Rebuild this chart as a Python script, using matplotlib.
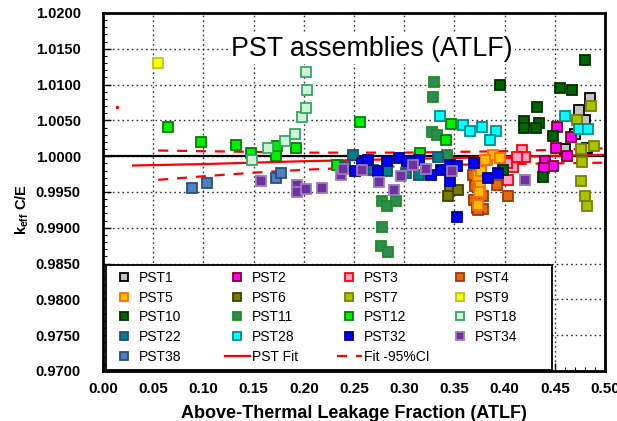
import matplotlib
matplotlib.use('Agg')
import matplotlib.pyplot as plt
from matplotlib.lines import Line2D
from matplotlib.ticker import MultipleLocator, FormatStrFormatter

plt.rcParams['font.family'] = ['Liberation Sans', 'DejaVu Sans']
plt.rcParams['mathtext.fontset'] = 'custom'
plt.rcParams['mathtext.rm'] = 'Liberation Sans'
plt.rcParams['mathtext.bf'] = 'Liberation Sans:bold'

# ---------------- data ----------------
pst1_x = [0.485, 0.4744, 0.480, 0.4701, 0.4602, 0.4818]
pst1_y = [1.0081, 1.0065, 1.0051, 1.0031, 1.0010, 1.0012]
pst2_x = [0.4525, 0.4658, 0.4512, 0.4618, 0.4402, 0.4485, 0.4392]
pst2_y = [1.0041, 1.0027, 1.0012, 1.0000, 0.9993, 0.9986, 0.9984]
pst3_x = [0.417, 0.4203, 0.412, 0.408, 0.4037, 0.4025]
pst3_y = [1.0009, 0.9999, 0.9999, 0.9985, 0.9967, 0.9991]
pst4_x = [0.3688, 0.3705, 0.3788, 0.3698, 0.3722, 0.3788, 0.392, 0.4037, 0.3738]
pst4_y = [0.9974, 0.9958, 0.9945, 0.9939, 0.9928, 0.9926, 0.9960, 0.9945, 0.9925]
pst5_x = [0.3822, 0.3881, 0.3954, 0.3805, 0.3738, 0.3755, 0.3738, 0.3765, 0.3745]
pst5_y = [0.9995, 1.0002, 0.9998, 0.9994, 0.9972, 0.9958, 0.9932, 0.9980, 0.9950]
pst6_x = [0.3456, 0.3533, 0.344]
pst6_y = [0.9953, 0.9953, 0.9945]
pst7_x = [0.486, 0.4724, 0.4758, 0.4894, 0.4774, 0.4758, 0.480, 0.4818]
pst7_y = [1.0070, 1.0051, 1.0010, 1.0014, 0.9992, 0.9965, 0.9945, 0.9931]
pst9_x = [0.055]
pst9_y = [1.0130]
pst10_x = [0.4801, 0.3954, 0.4552, 0.4674, 0.4326, 0.4196, 0.4196, 0.4346, 0.4313, 0.4485, 0.4386, 0.3987]
pst10_y = [1.0134, 1.0100, 1.0095, 1.0093, 1.0069, 1.0049, 1.0039, 1.0047, 1.0039, 1.0028, 0.9971, 0.9981]
pst11_x = [0.3294, 0.3284, 0.3274, 0.333, 0.2776, 0.2826, 0.2918, 0.2776, 0.2766, 0.2836, 0.3423]
pst11_y = [1.0104, 1.0082, 1.0034, 1.0029, 0.9937, 0.9930, 0.9937, 0.9901, 0.9875, 0.9866, 1.0001]
pst12_x = [0.065, 0.0976, 0.1321, 0.1471, 0.1723, 0.173, 0.1922, 0.2330, 0.256, 0.3463, 0.3416, 0.3157]
pst12_y = [1.0041, 1.0020, 1.0015, 1.0004, 1.0000, 1.0014, 1.0012, 0.9988, 1.0048, 1.0045, 1.0022, 1.0004]
pst18_x = [0.1487, 0.1647, 0.1813, 0.1912, 0.198, 0.202, 0.203, 0.202]
pst18_y = [0.9994, 1.0012, 1.0021, 1.0031, 1.0055, 1.0068, 1.0092, 1.0118]
pst22_x = [0.2487, 0.241, 0.2692, 0.2826, 0.3018, 0.315, 0.334]
pst22_y = [1.0002, 0.9985, 0.9981, 0.9979, 0.9977, 0.9974, 0.9999]
pst28_x = [0.4602, 0.4741, 0.4827, 0.3357, 0.3589, 0.3655, 0.3772, 0.3914, 0.3855]
pst28_y = [1.0056, 1.0038, 1.0038, 1.0056, 1.0044, 1.0035, 1.0041, 1.0035, 1.0023]
pst32_x = [0.251, 0.2577, 0.2643, 0.2826, 0.2736, 0.2952, 0.3025, 0.315, 0.3264,
           0.3364, 0.3456, 0.3529, 0.3456, 0.3529, 0.3698, 0.3832, 0.3931]
pst32_y = [0.9979, 0.9991, 0.9994, 0.9993, 0.9979, 0.9998, 0.9993, 0.9994, 0.9974,
           0.9981, 0.9988, 0.9987, 0.9965, 0.9915, 0.9990, 0.9970, 0.9977]
pst34_x = [0.157, 0.1929, 0.1935, 0.2022, 0.2178, 0.2367, 0.2394, 0.2577, 0.2746,
           0.2898, 0.2965, 0.3085, 0.3217, 0.3473, 0.4203]
pst34_y = [0.9966, 0.9960, 0.9950, 0.9954, 0.9956, 0.9974, 0.9982, 0.9981, 0.9964,
           0.9953, 0.9973, 0.9988, 0.9982, 0.9980, 0.9967]
pst38_x = [0.089, 0.1033, 0.1723, 0.177]
pst38_y = [0.9955, 0.9962, 0.9970, 0.9976]

extra_x = [0.0136]
extra_y = [1.0069]

fit_x = [0.03, 0.10, 0.20, 0.30, 0.40, 0.50]
fit_y = [0.9987, 0.9989, 0.9993, 0.9996, 0.9999, 1.0002]
ci_x = [0.055, 0.10, 0.15, 0.20, 0.25, 0.30, 0.35, 0.40, 0.45, 0.50]
ci_upper = [1.0008, 1.0007, 1.0006, 1.0005, 1.0005, 1.0005, 1.0006, 1.0007, 1.0009, 1.0011]
ci_lower = [0.9967, 0.9972, 0.9977, 0.9981, 0.9984, 0.9986, 0.9988, 0.9989, 0.9990, 0.9991]

labels = ['PST1', 'PST2', 'PST3', 'PST4', 'PST5', 'PST6', 'PST7', 'PST9', 'PST10',
          'PST11', 'PST12', 'PST18', 'PST22', 'PST28', 'PST32', 'PST34', 'PST38']
xs = [pst1_x, pst2_x, pst3_x, pst4_x, pst5_x, pst6_x, pst7_x, pst9_x, pst10_x,
      pst11_x, pst12_x, pst18_x, pst22_x, pst28_x, pst32_x, pst34_x, pst38_x]
ys = [pst1_y, pst2_y, pst3_y, pst4_y, pst5_y, pst6_y, pst7_y, pst9_y, pst10_y,
      pst11_y, pst12_y, pst18_y, pst22_y, pst28_y, pst32_y, pst34_y, pst38_y]
faces = ['#c4c4c4', '#ff00ff', '#ff9ec8', '#e06a10', '#ffc000', '#7a7a00', '#a8c400',
         '#ffff00', '#006400', '#2e8b57', '#00f000', '#ccf5d6', '#008080', '#00ffff',
         '#0000ff', '#7030a0', '#4f7fbf']
edges = ['#000000', '#800020', '#ff0000', '#a03a00', '#ff6a00', '#404000', '#7a8000',
         '#b0c820', '#003000', '#1e8c1e', '#008000', '#3aa36a', '#1f4e79', '#008b8b',
         '#00008b', '#9a7cc0', '#2a4e80']

# ---------------- figure ----------------
fig = plt.figure(figsize=(6.17, 4.21), dpi=100)
ax = fig.add_axes([103 / 617, 1 - 371 / 421, (605 - 103) / 617, (371 - 13) / 421])
ax.set_xlim(0, 0.5)
ax.set_ylim(0.97, 1.02)

ax.xaxis.set_major_locator(MultipleLocator(0.05))
ax.xaxis.set_minor_locator(MultipleLocator(0.01))
ax.yaxis.set_major_locator(MultipleLocator(0.005))
ax.yaxis.set_minor_locator(MultipleLocator(0.001))
ax.xaxis.set_major_formatter(FormatStrFormatter('%.2f'))
ax.yaxis.set_major_formatter(FormatStrFormatter('%.4f'))
ax.tick_params(which='both', direction='in', top=False, right=False)
ax.tick_params(which='major', length=6, width=1)
ax.tick_params(which='minor', length=3, width=0.8)
ax.tick_params(axis='x', which='major', pad=8, labelsize=11)
ax.tick_params(axis='y', which='major', pad=16, labelsize=10.5)
for lab in ax.get_xticklabels() + ax.get_yticklabels():
    lab.set_fontweight('bold')
for sp in ax.spines.values():
    sp.set_linewidth(2)

ax.grid(True, which='major', linestyle=(0, (1.2, 2.2)), color='#333333', linewidth=1.0, zorder=0)
ax.set_axisbelow(True)
ax.axhline(1.0, color='k', lw=1.6, zorder=1.5)

ci_ls = (0, (4.5, 4))
ax.plot(fit_x, fit_y, color='red', lw=1.6, zorder=1.7)
ax.plot(ci_x, ci_upper, color='red', lw=1.6, ls=ci_ls, zorder=1.7)
ax.plot(ci_x, ci_lower, color='red', lw=1.6, ls=ci_ls, zorder=1.7)
ax.plot(extra_x, extra_y, 'o', color='red', ms=2.5, mew=0, zorder=2)

for x, y, fc, ec in zip(xs, ys, faces, edges):
    ax.plot(x, y, ls='none', marker='s', ms=6.8, mfc=fc, mec=ec, mew=1.3, zorder=3)

ax.text(0.268, 1.0140, 'PST assemblies (ATLF)', fontsize=19.3, ha='center', va='baseline',
        bbox=dict(facecolor='white', edgecolor='none', pad=1.5), zorder=4)

ax.set_xlabel('Above-Thermal Leakage Fraction (ATLF)', fontsize=13, fontweight='bold', va='center')
ax.xaxis.set_label_coords(0.5, -0.118)
ax.set_ylabel(r'k$_{\mathbf{eff}}$ C/E', fontsize=10.5, fontweight='bold', va='center', ha='center')
ax.yaxis.set_label_coords(-0.161, 0.4525)

# ---------------- legend (row-major order like the reference) ----------------
mk = {lab: Line2D([], [], ls='none', marker='s', ms=6.8, mfc=fc, mec=ec, mew=1.3)
      for lab, fc, ec in zip(labels, faces, edges)}
fit_h = Line2D([], [], color='red', lw=1.6)
ci_h = Line2D([], [], color='red', lw=1.6, ls=ci_ls)
blank = Line2D([], [], ls='none', marker=None)
col0 = [(mk['PST1'], 'PST1'), (mk['PST5'], 'PST5'), (mk['PST10'], 'PST10'), (mk['PST22'], 'PST22'), (mk['PST38'], 'PST38')]
col1 = [(mk['PST2'], 'PST2'), (mk['PST6'], 'PST6'), (mk['PST11'], 'PST11'), (mk['PST28'], 'PST28'), (fit_h, 'PST Fit')]
col2 = [(mk['PST3'], 'PST3'), (mk['PST7'], 'PST7'), (mk['PST12'], 'PST12'), (mk['PST32'], 'PST32'), (ci_h, 'Fit -95%CI')]
col3 = [(mk['PST4'], 'PST4'), (mk['PST9'], 'PST9'), (mk['PST18'], 'PST18'), (mk['PST34'], 'PST34'), (blank, '')]
entries = col0 + col1 + col2 + col3
leg = ax.legend([h for h, _ in entries], [l for _, l in entries], ncol=4,
                loc='lower left', bbox_to_anchor=(0.006, 0.004), borderaxespad=0,
                fontsize=10, handlelength=1.8, handletextpad=0.2, columnspacing=0.0,
                labelspacing=0.42, borderpad=0.4, markerscale=0.9,
                fancybox=False, edgecolor='black', framealpha=1)
leg.get_frame().set_linewidth(1.3)
leg.set_zorder(5)
try:
    cols = leg._legend_handle_box.get_children()
    for c, w in zip(cols, [113, 112, 111, 99]):
        c.align = 'left'
        c.width = w
except Exception:
    pass

fig.savefig('out.png', dpi=100)
